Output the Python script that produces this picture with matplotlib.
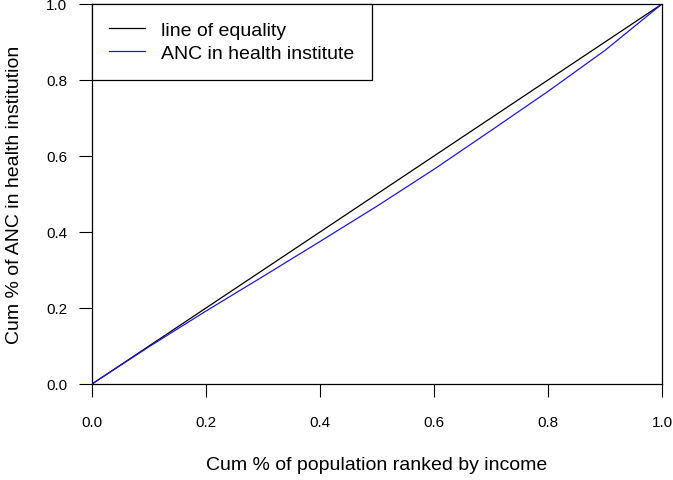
import matplotlib
matplotlib.use("Agg")
import matplotlib.pyplot as plt

plt.rcParams['font.family'] = ['Liberation Sans', 'DejaVu Sans']

# cumulative share of population ranked by income
pop_share = [0.0, 0.1, 0.2, 0.3, 0.4, 0.5, 0.6, 0.7, 0.8, 0.9, 1.0]
# cumulative share of ANC in health institution
anc_share = [0.0, 0.098, 0.192, 0.283, 0.375, 0.468, 0.565, 0.667, 0.770, 0.878, 1.0]
equality = [0.0, 1.0]
ticks = [0.0, 0.2, 0.4, 0.6, 0.8, 1.0]
tick_labels = ['0.0', '0.2', '0.4', '0.6', '0.8', '1.0']

fig = plt.figure(figsize=(6.73, 4.81), dpi=100)
ax = fig.add_axes([92 / 673, 1 - 385 / 481, 570 / 673, 380 / 481])

ax.plot(equality, equality, color='black', lw=0.9, label='line of equality')
ax.plot(pop_share, anc_share, color='#1a1adb', lw=0.9, label='ANC in health institute')

ax.set_xlim(0, 1)
ax.set_ylim(0, 1)
ax.set_xticks(ticks)
ax.set_xticklabels(tick_labels)
ax.set_yticks(ticks)
ax.set_yticklabels(tick_labels)
ax.tick_params(direction='out', length=9.2, width=0.8, labelsize=11, colors='black')
ax.tick_params(axis='x', pad=13)
ax.tick_params(axis='y', pad=8.5)
for s in ax.spines.values():
    s.set_linewidth(0.9)
    s.set_color('black')

ax.set_xlabel('Cum % of population ranked by income', fontsize=14, va='center')
ax.set_ylabel('Cum % of ANC in health institution', fontsize=14, va='center')
ax.xaxis.set_label_coords(0.5, (385 - 466) / 380)
ax.yaxis.set_label_coords((15 - 92) / 570, 0.5)

leg = ax.legend(loc='upper left', bbox_to_anchor=(0, 1), borderaxespad=0,
                fancybox=False, edgecolor='black', framealpha=1, fontsize=14,
                handlelength=1.85, handletextpad=0.8, labelspacing=0.28,
                borderpad=0.9)
leg.get_frame().set_linewidth(0.9)

fig.savefig('out.png', dpi=100)
